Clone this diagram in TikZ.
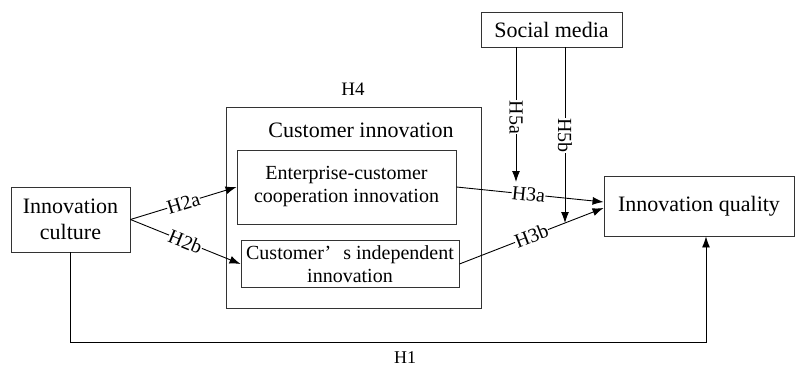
\documentclass[tikz,border=0pt]{standalone}
\usepackage{fontspec}
\setmainfont{Liberation Serif}
\usetikzlibrary{arrows.meta,calc}
\begin{document}
\begin{tikzpicture}[x=1pt,y=-1pt,
  box/.style={draw=black!80,line width=0.9pt,inner sep=0pt,align=center},
  big/.style={font=\fontsize{22}{26}\selectfont},
  mid/.style={font=\fontsize{20}{23}\selectfont},
  lab/.style={font=\fontsize{20}{22}\selectfont,fill=white,inner sep=0.3pt},
  link/.style={line width=0.9pt,-{Latex[length=11pt,width=8pt]}},
  plain/.style={line width=0.9pt}]
\useasboundingbox (0,0) rectangle (796,369);

% constructs
\node[box,big,minimum width=119pt,minimum height=65pt] (ic) at (70.5,219.5) {Innovation\\culture};
\node[box,minimum width=255pt,minimum height=201pt] (ci) at (353.5,207.5) {};
\node[big,inner sep=0pt] (ciname) at (361,130) {Customer innovation};
\node[font=\fontsize{19}{21}\selectfont,inner sep=0pt] (h4) at (353,89) {H4};
\node[box,mid,minimum width=219pt,minimum height=74pt] (ent) at (346.5,187) {Enterprise-customer\\cooperation innovation};
\node[box,mid,minimum width=218pt,minimum height=47pt] (cust) at (350,264) {Customer’\hspace{0.6em}s independent\\innovation};
\node[box,big,minimum width=190pt,minimum height=60pt] (iq) at (699,206) {Innovation quality};
\node[box,big,minimum width=141pt,minimum height=35pt] (sm) at (551.5,29.5) {Social media};

% end points of the moderating paths and of the direct path
\coordinate (h5aend) at (516,182);
\coordinate (h5bend) at (565,223);
\coordinate (h1corner) at (706,342.5);

% culture -> customer innovation
\draw[link] (ic.east) -- node[lab,sloped,pos=0.5] {H2a} (ent.west);
\draw[link] (ic.east) -- node[lab,sloped,pos=0.5] {H2b} (cust.west);

% customer innovation -> quality
\draw[link] (ent.east) -- node[lab,sloped,pos=0.49] {H3a} ($(iq.west)+(0,-4)$);
\draw[link] (cust.east) -- node[lab,sloped,pos=0.5] {H3b} ($(iq.west)+(0,2)$);

% social media moderation
\draw[link] (sm.south -| h5aend) -- node[lab,rotate=-90,pos=0.52] {H5a} (h5aend);
\draw[link] (sm.south -| h5bend) -- node[lab,rotate=-90,pos=0.5] {H5b} (h5bend);

% direct effect
\draw[plain] (ic.south) |- (h1corner);
\draw[link] (h1corner) -- (iq.south -| h1corner);
\node[font=\fontsize{18}{20}\selectfont,inner sep=0pt] (h1) at (405,358) {H1};
\end{tikzpicture}
\end{document}
